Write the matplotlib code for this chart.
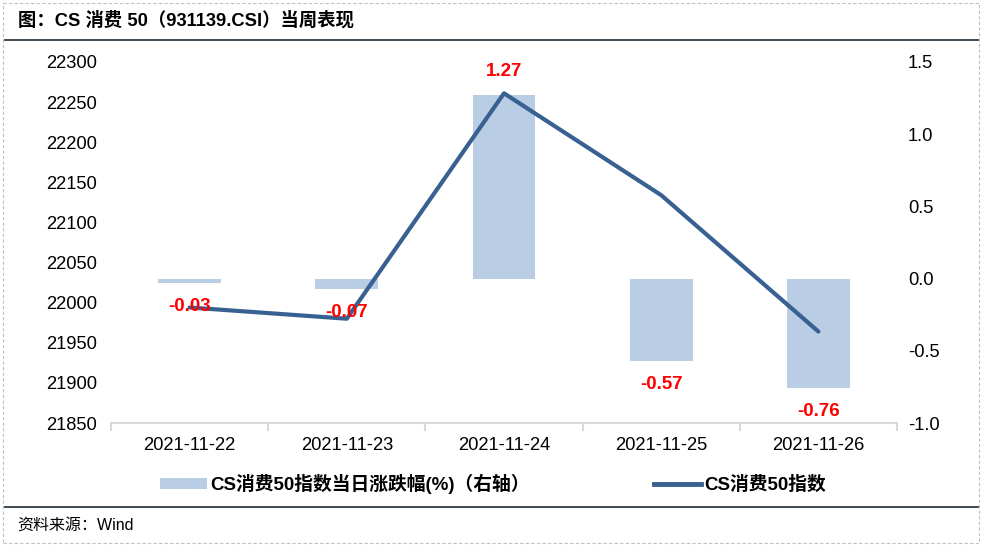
import matplotlib

matplotlib.use("Agg")
import matplotlib.pyplot as plt
from matplotlib.lines import Line2D
from matplotlib.patches import Patch, Rectangle

plt.rcParams["font.family"] = ["Liberation Sans", "Noto Sans CJK SC", "DejaVu Sans"]

# data
dates = ["2021-11-22", "2021-11-23", "2021-11-24", "2021-11-25", "2021-11-26"]
index_close = [21994, 21980, 22261, 22134, 21964]
pct_change = [-0.03, -0.07, 1.27, -0.57, -0.76]

left_ticks = list(range(21850, 22301, 50))
right_ticks = [-1.0, -0.5, 0.0, 0.5, 1.0, 1.5]

title = "图：CS 消费 50（931139.CSI）当周表现"
source = "资料来源：Wind"
bar_label = "CS消费50指数当日涨跌幅(%)（右轴）"
line_label = "CS消费50指数"

BAR_COLOR = "#B9CDE5"
LINE_COLOR = "#386192"
GRID_GRAY = "#D9D9D9"
RULE_COLOR = "#2E3A46"

W, H = 983, 548
fig = plt.figure(figsize=(W / 100, H / 100), dpi=100)

# frame: dashed border, title rule and source rule
fig.add_artist(Rectangle((3 / W, 1 - 543 / H), 976 / W, 540 / H, transform=fig.transFigure,
                         fill=False, edgecolor="#C0C0C0", linestyle=(0, (3, 2)), linewidth=0.8))
fig.add_artist(Line2D([5 / W, 978 / W], [1 - 39.5 / H] * 2, color=RULE_COLOR, linewidth=1.3))
fig.add_artist(Line2D([5 / W, 978 / W], [1 - 506.5 / H] * 2, color=RULE_COLOR, linewidth=1.3))

fig.text(18 / W, 1 - 20 / H, title, fontsize=13.2, fontweight="bold", va="center", ha="left")
fig.text(17 / W, 1 - 525 / H, source, fontsize=11.5, va="center", ha="left")

ax = fig.add_axes([111 / W, 1 - 423 / H, 786 / W, 361 / H])
ax_r = ax.twinx()
ax.set_zorder(ax_r.get_zorder() + 1)
ax.patch.set_visible(False)

x = list(range(len(dates)))
ax_r.bar(x, pct_change, width=0.4, color=BAR_COLOR, zorder=2)
ax.plot(x, index_close, color=LINE_COLOR, linewidth=3, solid_capstyle="round", zorder=3)

for xi, v in zip(x, pct_change):
    off = 17 if v > 0 else -17
    ax.annotate(f"{v:.2f}", xy=(xi, v), xycoords=ax_r.transData, xytext=(0, off),
                textcoords="offset points", ha="center", va="center", color="#FF0000",
                fontsize=13.5, fontweight="bold", zorder=5)

ax.set_xlim(-0.5, len(dates) - 0.5)
ax.set_ylim(21850, 22300)
ax_r.set_ylim(-1.0, 1.5)
ax.set_yticks(left_ticks)
ax_r.set_yticks(right_ticks)
ax_r.set_yticklabels([f"{t:.1f}" for t in right_ticks])

# boundary ticks on the x axis, labels at category centres
ax.set_xticks([i - 0.5 for i in range(len(dates) + 1)])
ax.set_xticklabels([])
ax.set_xticks(x, minor=True)
ax.set_xticklabels(dates, minor=True)
ax.tick_params(axis="x", which="major", length=6, width=1.5, color=GRID_GRAY)
ax.tick_params(axis="x", which="minor", length=0, pad=10, labelsize=13.2)
ax.tick_params(axis="y", length=0, pad=10, labelsize=13.2)
ax_r.tick_params(axis="y", length=0, pad=8, labelsize=13.2)
ax_r.tick_params(axis="x", which="both", length=0)

for a in (ax, ax_r):
    for s in ("left", "right", "top", "bottom"):
        a.spines[s].set_visible(False)
ax.spines["bottom"].set_visible(True)
ax.spines["bottom"].set_color(GRID_GRAY)
ax.spines["bottom"].set_linewidth(1.5)

handles = [Patch(facecolor=BAR_COLOR, edgecolor="none"),
           Line2D([0], [0], color=LINE_COLOR, linewidth=3.5)]
fig.legend(handles, [bar_label, line_label], loc="center left",
           bbox_to_anchor=(160 / W, 1 - 484 / H), ncol=2, frameon=False,
           borderpad=0, borderaxespad=0, handlelength=2.5, handleheight=0.6,
           handletextpad=0.2, columnspacing=6.6,
           prop={"size": 13.5, "weight": "bold"})

fig.savefig("out.png", dpi=100)
